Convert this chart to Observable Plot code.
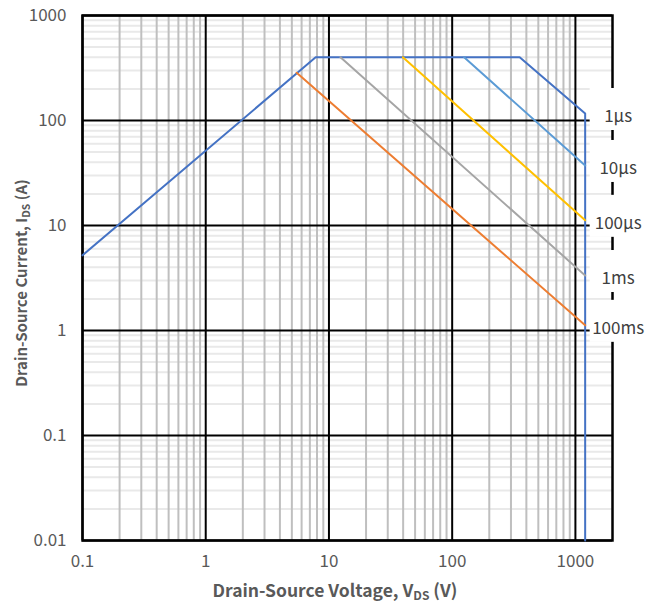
<!DOCTYPE html>
<html><head><meta charset="utf-8">
<script src="https://cdn.jsdelivr.net/npm/d3@7"></script>
<script src="https://cdn.jsdelivr.net/npm/@observablehq/plot@0.6"></script>
<style>body{margin:0;background:#fff} #chart{width:660px;height:610px}</style>
</head><body><div id="chart"></div>
<script>
// Tick values
const xMajor = [0.1, 1, 10, 100, 1000];
const yMajor = [0.01, 0.1, 1, 10, 100, 1000];
const minorMult = [2, 3, 4, 5, 6, 7, 8, 9];
const xMinor = xMajor.flatMap(d => minorMult.map(m => d * m)).filter(v => v < 2000);
const yMinor = yMajor.slice(0, -1).flatMap(d => minorMult.map(m => d * m));

// Series (Drain-Source Voltage V, Drain-Source Current A)
const seriesNames = ["1µs", "10µs", "100µs", "1ms", "100ms"];
const seriesColors = ["#4472C4", "#5B9BD5", "#FFC000", "#A5A5A5", "#ED7D31"];
const v1us = [0.1, 7.8, 353, 1200, 1200];
const i1us = [5.2, 400, 400, 116.6, 0.01];
const v10us = [125, 1200];
const i10us = [400, 37.3];
const v100us = [39.8, 1200];
const i100us = [400, 11.2];
const v1ms = [12.4, 1200];
const i1ms = [400, 3.34];
const v100ms = [5.47, 1200];
const i100ms = [285, 1.12];

const vs = [v1us, v10us, v100us, v1ms, v100ms];
const is = [i1us, i10us, i100us, i1ms, i100ms];
const seriesRows = vs.map((vArr, k) => vArr.map((v, j) => ({v, i: is[k][j], name: seriesNames[k]})));
// label anchor = end of each curve at the 1200 V limit
const labelRows = seriesRows.map((rows, k) => {
  const r = k === 0 ? rows[3] : rows[rows.length - 1];
  return {v: r.v, i: r.i, name: seriesNames[k]};
});

const font = "'Noto Sans CJK SC', 'Noto Sans', sans-serif";

const plot = Plot.plot({
  width: 660, height: 610,
  marginLeft: 82, marginRight: 48, marginTop: 15, marginBottom: 70,
  style: {fontFamily: font, fontSize: "17px", color: "#595959", background: "white"},
  x: {type: "log", domain: [0.1, 2000]},
  y: {type: "log", domain: [0.01, 1000]},
  marks: [
    Plot.ruleY(yMinor, {stroke: "#E9E9E9", strokeWidth: 2}),
    Plot.ruleX(xMinor, {stroke: "#BFBFBF", strokeWidth: 2}),
    Plot.ruleY(yMajor, {stroke: "black", strokeWidth: 2}),
    Plot.ruleX(xMajor, {stroke: "black", strokeWidth: 2}),
    Plot.frame({stroke: "black", strokeWidth: 2.5}),
    Plot.axisX(xMajor, {tickSize: 0, tickPadding: 14, tickFormat: d => String(d), label: null, fontSize: 17}),
    Plot.axisY(yMajor, {tickSize: 0, tickPadding: 16, tickFormat: d => String(d), label: null, fontSize: 17}),
    ...seriesRows.map((rows, k) => Plot.line(rows, {x: "v", y: "i", stroke: seriesColors[k], strokeWidth: 2})),
    Plot.text(labelRows, {x: "v", y: "i", text: "name", dx: 33, dy: 3, fill: "#404040", fontSize: 17})
  ]
});

document.getElementById("chart").appendChild(plot);

const svg = d3.select(plot);
const sx = plot.scale("x"), sy = plot.scale("y");
// locate the series-label group (text node "1µs")
let labelG = null;
plot.querySelectorAll("text").forEach(t => { if (t.textContent === seriesNames[0]) labelG = t.parentNode; });
// white boxes behind the series labels
const boxG = document.createElementNS("http://www.w3.org/2000/svg", "g");
plot.appendChild(boxG);
d3.select(boxG).selectAll("rect").data(labelRows).join("rect")
  .attr("x", d => sx.apply(d.v) + 5)
  .attr("width", 58)
  .attr("y", d => sy.apply(d.i) - 25)
  .attr("height", 42)
  .attr("fill", "white");
if (labelG) plot.appendChild(labelG);

// axis titles with subscripts
const xt = svg.append("text")
  .attr("x", 335).attr("y", 597)
  .attr("text-anchor", "middle")
  .attr("font-family", font).attr("font-weight", "bold").attr("font-size", 17.5)
  .attr("fill", "#595959");
xt.append("tspan").text("Drain-Source Voltage, V");
xt.append("tspan").attr("font-size", 12).attr("dy", 3).text("DS");
xt.append("tspan").attr("dy", -3).text(" (V)");

const yt = svg.append("text")
  .attr("transform", "translate(27,283) rotate(-90)")
  .attr("text-anchor", "middle")
  .attr("font-family", font).attr("font-weight", "bold").attr("font-size", 15)
  .attr("fill", "#595959");
yt.append("tspan").text("Drain-Source Current, I");
yt.append("tspan").attr("font-size", 10.5).attr("dy", 3).text("DS");
yt.append("tspan").attr("dy", -3).text(" (A)");
</script>
</body></html>
